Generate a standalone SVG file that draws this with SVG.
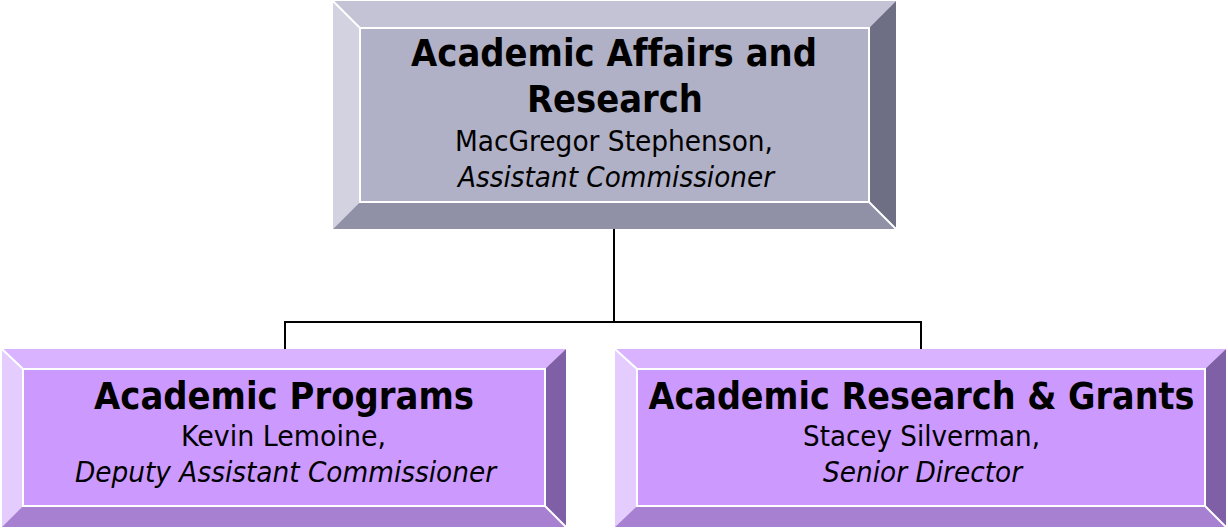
<svg xmlns="http://www.w3.org/2000/svg" width="1228" height="529" viewBox="0 0 1228 529">
<style>
.t{font-family:"DejaVu Sans","Verdana",sans-serif;fill:#000;text-anchor:middle;font-variant-ligatures:none}
.b{font-weight:bold;font-size:37px}
.r{font-size:28px}
.i{font-size:28px;font-style:italic}
.hl{fill:none;stroke:#fff;stroke-width:2}
.con{fill:none;stroke:#000;stroke-width:2}
.g-top{fill:#c3c3d5}.g-left{fill:#d2d2e0}.g-face{fill:#b0b0c6}.g-bot{fill:#9090a6}.g-right{fill:#6e6e84}
.p-top{fill:#d9b3ff}.p-left{fill:#e5ccff}.p-face{fill:#cc99ff}.p-bot{fill:#a880d2}.p-right{fill:#7f5fa6}
</style>
<rect width="1228" height="529" fill="#fff"/>
<g id="connectors">
<path class="con" d="M614 229V322M285 322H921M285 321V349M921 321V349"/>
</g>
<g id="node-academic-affairs">
<polygon class="g-top" points="333,1 896,1 869,28 360,28"/>
<polygon class="g-left" points="333,1 360,28 360,202 333,229"/>
<polygon class="g-right" points="896,1 896,229 869,202 869,28"/>
<polygon class="g-bot" points="333,229 360,202 869,202 896,229"/>
<rect class="g-face" x="360" y="28" width="509" height="174"/>
<path class="hl" d="M333 1L360 28M896 229L869 202M360 28H869V202H360Z"/>
<text class="t b" x="614" y="66" textLength="406" lengthAdjust="spacingAndGlyphs">Academic Affairs and</text>
<text class="t b" x="615" y="112" textLength="176" lengthAdjust="spacingAndGlyphs">Research</text>
<text class="t r" x="614" y="151" textLength="318" lengthAdjust="spacingAndGlyphs">MacGregor Stephenson,</text>
<text class="t i" x="616" y="187" textLength="316" lengthAdjust="spacingAndGlyphs">Assistant Commissioner</text>
</g>
<g id="node-academic-programs">
<polygon class="p-top" points="2,349 566,349 545,369 23,369"/>
<polygon class="p-left" points="2,349 23,369 23,506 2,527"/>
<polygon class="p-right" points="566,349 566,527 545,506 545,369"/>
<polygon class="p-bot" points="2,527 23,506 545,506 566,527"/>
<rect class="p-face" x="23" y="369" width="522" height="137"/>
<path class="hl" d="M2 349L23 369M566 527L545 506M23 369H545V506H23Z"/>
<text class="t b" x="284" y="409" textLength="380" lengthAdjust="spacingAndGlyphs">Academic Programs</text>
<text class="t r" x="283.5" y="446" textLength="205" lengthAdjust="spacingAndGlyphs">Kevin Lemoine,</text>
<text class="t i" x="285.5" y="482" textLength="421" lengthAdjust="spacingAndGlyphs">Deputy Assistant Commissioner</text>
</g>
<g id="node-academic-research">
<polygon class="p-top" points="615,349 1226,349 1205,369 637,369"/>
<polygon class="p-left" points="615,349 637,369 637,506 615,527"/>
<polygon class="p-right" points="1226,349 1226,527 1205,506 1205,369"/>
<polygon class="p-bot" points="615,527 637,506 1205,506 1226,527"/>
<rect class="p-face" x="637" y="369" width="568" height="137"/>
<path class="hl" d="M615 349L637 369M1226 527L1205 506M637 369H1205V506H637Z"/>
<text class="t b" x="921.5" y="409" textLength="546" lengthAdjust="spacingAndGlyphs">Academic Research &amp; Grants</text>
<text class="t r" x="921.5" y="446" textLength="237" lengthAdjust="spacingAndGlyphs">Stacey Silverman,</text>
<text class="t i" x="922.5" y="482" textLength="199" lengthAdjust="spacingAndGlyphs">Senior Director</text>
</g>
</svg>
